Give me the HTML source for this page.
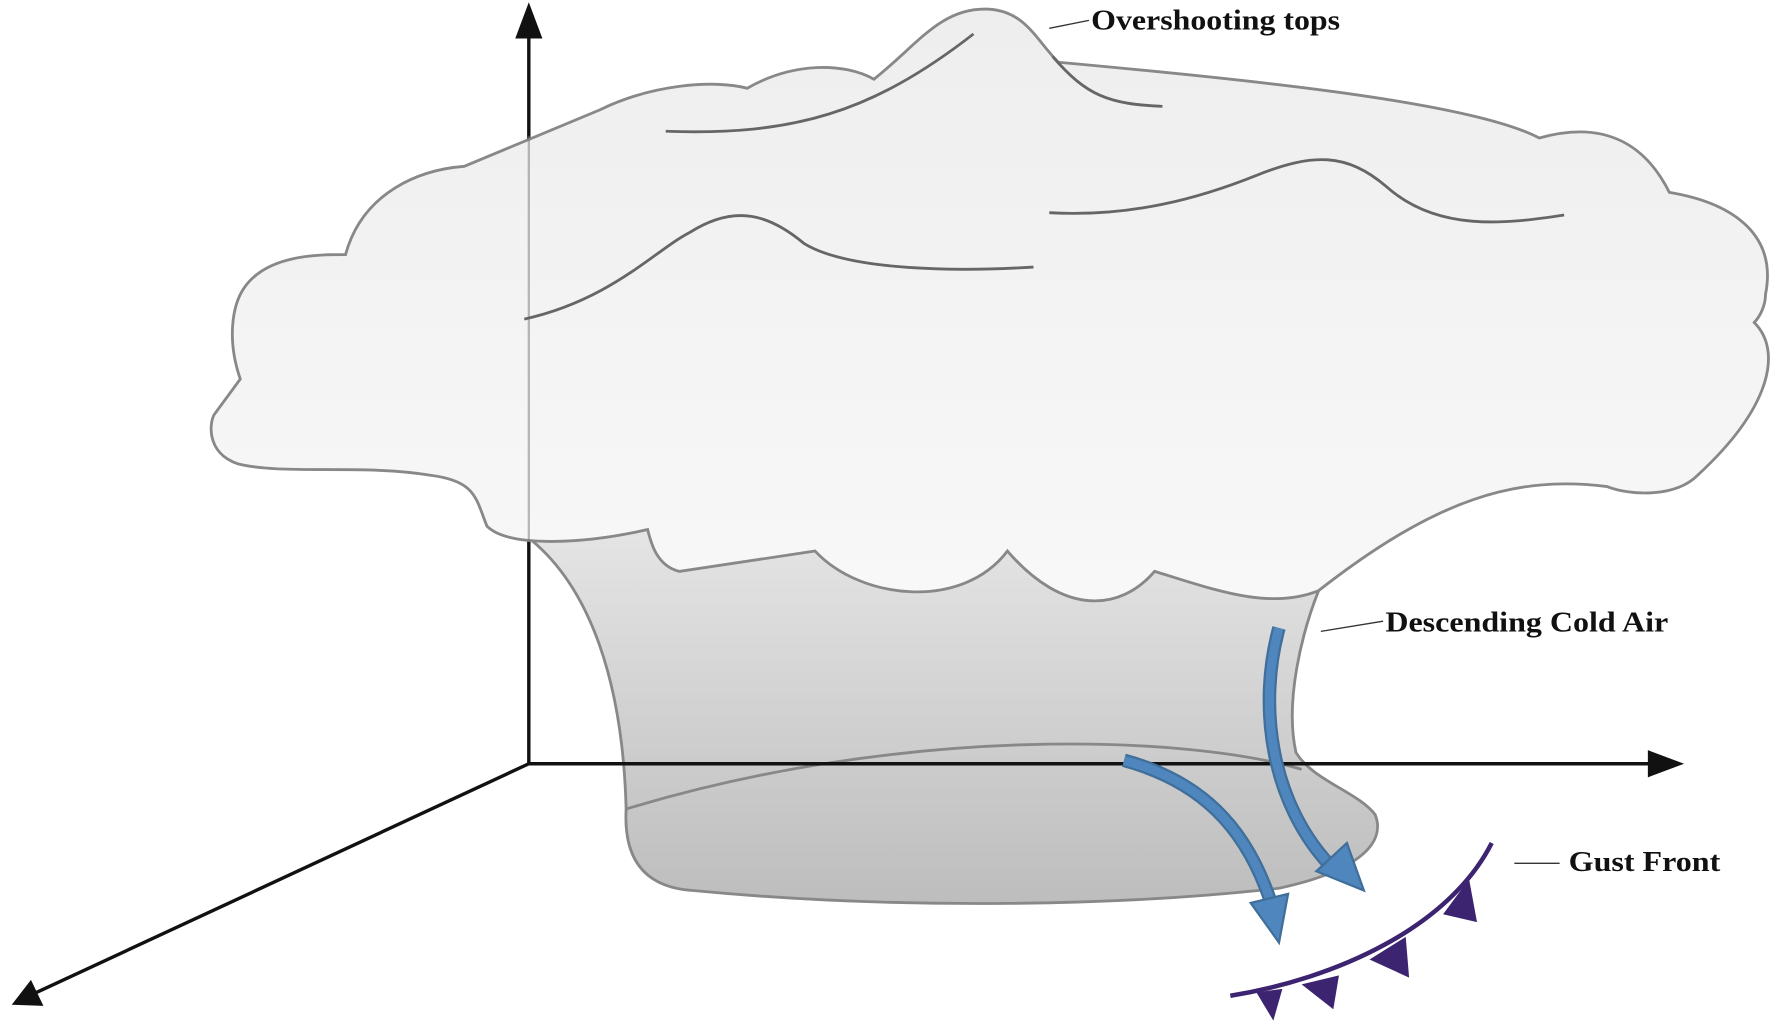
<!DOCTYPE html>
<html><head><meta charset="utf-8"><style>html,body{margin:0;padding:0;background:#fff}svg{display:block}</style></head>
<body>
<svg width="1775" height="1024" viewBox="0 0 1568 905" xmlns="http://www.w3.org/2000/svg">
<defs>
<linearGradient id="cg" x1="0" y1="0" x2="0" y2="1"><stop offset="0" stop-color="#eeeeee"/><stop offset="1" stop-color="#f8f8f8"/></linearGradient>
<linearGradient id="ng" x1="0" y1="0" x2="0" y2="1"><stop offset="0" stop-color="#e8e8e8"/><stop offset="1" stop-color="#bdbdbd"/></linearGradient>
</defs>
<!-- neck -->
<path d="M470,478 C520,520 550,600 553,715 C550,770 580,785 612,787 C800,805 1000,800 1130,785 C1200,770 1225,745 1215,720 C1200,700 1160,690 1145,665 C1135,620 1150,560 1165,522 L1165,440 L470,440Z" fill="url(#ng)" stroke="#888" stroke-width="2.5"/>
<path d="M553,715 C800,640 1050,650 1150,680" fill="none" stroke="#888" stroke-width="2.5"/>
<!-- axes -->
<line x1="467" y1="675" x2="467" y2="30" stroke="#111" stroke-width="3"/>
<path d="M467,2 L455,34 L479,34Z" fill="#111"/>
<line x1="467" y1="675" x2="1460" y2="675" stroke="#111" stroke-width="3"/>
<path d="M1488,675 L1456,663 L1456,687Z" fill="#111"/>
<line x1="467" y1="675" x2="30" y2="878" stroke="#111" stroke-width="3"/>
<path d="M10,888 L27,866 L38,889Z" fill="#111"/>
<!-- cloud -->
<path d="M410,147 L530,97 C575,75 630,70 660,78 C700,55 745,55 772,70 C810,40 830,8 870,8 C905,8 915,35 935,55 C1100,70 1300,90 1360,122 C1420,105 1455,130 1475,170 C1535,180 1570,210 1560,260 C1560,270 1555,280 1550,285 C1575,310 1565,360 1500,420 C1480,440 1440,438 1420,430 C1340,420 1270,440 1165,522 C1120,540 1070,520 1020,505 C990,540 940,545 890,487 C850,540 760,530 720,487 L600,505 C580,500 575,480 572,468 C520,480 450,485 430,465 C420,440 420,425 380,420 C320,410 250,420 210,410 C180,400 185,370 190,365 L212,335 C200,300 205,270 215,255 C235,225 280,225 305,225 C320,170 370,150 410,147Z" fill="url(#cg)" stroke="#888" stroke-width="2.5"/>
<line x1="467" y1="120" x2="467" y2="478" stroke="#777" stroke-width="2" opacity="0.5"/>
<!-- inner lines -->
<g fill="none" stroke="#666" stroke-width="2.5">
<path d="M588,116 C700,120 770,100 860,30"/>
<path d="M930,50 C960,85 980,92 1027,94"/>
<path d="M463,282 C540,265 580,220 610,205 C650,180 680,190 710,215 C750,240 850,240 913,236"/>
<path d="M927,188 C1000,192 1060,175 1110,155 C1160,135 1190,135 1225,165 C1270,205 1330,198 1382,190"/>
</g>
<!-- blue arrows -->
<g fill="none" stroke-linecap="butt">
<path d="M1130,555 C1112,620 1120,710 1180,770" stroke="#3f6f9a" stroke-width="12"/>
<path d="M1130,555 C1112,620 1120,710 1180,770" stroke="#4f86bd" stroke-width="8"/>
<path d="M993,672 C1060,690 1100,730 1122,795" stroke="#3f6f9a" stroke-width="12"/>
<path d="M993,672 C1060,690 1100,730 1122,795" stroke="#4f86bd" stroke-width="8"/>
</g>
<path d="M1163,770 L1205,787 L1190,745Z" fill="#4f86bd" stroke="#3f6f9a" stroke-width="2"/>
<path d="M1105,798 L1130,833 L1138,790Z" fill="#4f86bd" stroke="#3f6f9a" stroke-width="2"/>
<!-- gust front -->
<path d="M1087,880 C1180,865 1280,820 1318,745" fill="none" stroke="#3d2470" stroke-width="4"/>
<g fill="#3d2470">
<path d="M1110,877 L1125,902 L1133,874Z"/>
<path d="M1150,870 L1178,892 L1183,862Z"/>
<path d="M1210,848 L1245,864 L1242,828Z"/>
<path d="M1275,808 L1305,815 L1298,777Z"/>
</g>
<!-- labels -->
<g font-family="Liberation Serif, serif" font-weight="bold" font-size="25" fill="#111">
<text x="964" y="26" textLength="220" lengthAdjust="spacingAndGlyphs">Overshooting tops</text>
<text x="1224" y="558" textLength="250" lengthAdjust="spacingAndGlyphs">Descending Cold Air</text>
<text x="1386" y="770" textLength="134" lengthAdjust="spacingAndGlyphs">Gust Front</text>
</g>
<g stroke="#333" stroke-width="1.2">
<line x1="927" y1="25" x2="962" y2="18"/>
<line x1="1167" y1="558" x2="1222" y2="549"/>
<line x1="1338" y1="763" x2="1378" y2="763"/>
</g>
</svg>
</body></html>
